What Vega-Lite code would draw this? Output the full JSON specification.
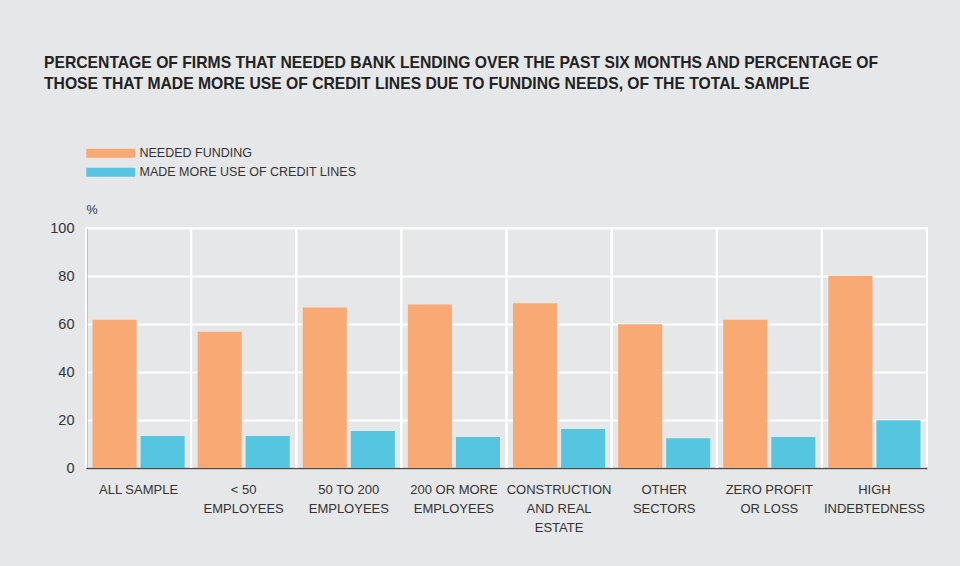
{
  "$schema": "https://vega.github.io/schema/vega-lite/v6.json",
  "autosize": {"type": "none"},
  "width": 841,
  "height": 240,
  "padding": {"left": 86, "top": 228, "right": 33, "bottom": 98},
  "background": "#e6e7e9",
  "title": {
    "text": ["PERCENTAGE OF FIRMS THAT NEEDED BANK LENDING OVER THE PAST SIX MONTHS AND PERCENTAGE OF", "THOSE THAT MADE MORE USE OF CREDIT LINES DUE TO FUNDING NEEDS, OF THE TOTAL SAMPLE"],
    "anchor": "start",
    "frame": "group",
    "dx": -42,
    "dy": -50,
    "font": "Liberation Sans",
    "fontSize": 15.7,
    "fontWeight": "bold",
    "color": "#222222",
    "lineHeight": 21
  },
  "data": {
    "values": [
      {"category": "ALL SAMPLE", "series": "NEEDED FUNDING", "value": 61.8},
      {"category": "ALL SAMPLE", "series": "MADE MORE USE OF CREDIT LINES", "value": 13.3},
      {"category": "< 50|EMPLOYEES", "series": "NEEDED FUNDING", "value": 56.8},
      {"category": "< 50|EMPLOYEES", "series": "MADE MORE USE OF CREDIT LINES", "value": 13.3},
      {"category": "50 TO 200|EMPLOYEES", "series": "NEEDED FUNDING", "value": 66.9},
      {"category": "50 TO 200|EMPLOYEES", "series": "MADE MORE USE OF CREDIT LINES", "value": 15.4},
      {"category": "200 OR MORE|EMPLOYEES", "series": "NEEDED FUNDING", "value": 68.1},
      {"category": "200 OR MORE|EMPLOYEES", "series": "MADE MORE USE OF CREDIT LINES", "value": 12.9},
      {"category": "CONSTRUCTION|AND REAL|ESTATE", "series": "NEEDED FUNDING", "value": 68.6},
      {"category": "CONSTRUCTION|AND REAL|ESTATE", "series": "MADE MORE USE OF CREDIT LINES", "value": 16.2},
      {"category": "OTHER|SECTORS", "series": "NEEDED FUNDING", "value": 59.9},
      {"category": "OTHER|SECTORS", "series": "MADE MORE USE OF CREDIT LINES", "value": 12.4},
      {"category": "ZERO PROFIT|OR LOSS", "series": "NEEDED FUNDING", "value": 61.8},
      {"category": "ZERO PROFIT|OR LOSS", "series": "MADE MORE USE OF CREDIT LINES", "value": 12.9},
      {"category": "HIGH|INDEBTEDNESS", "series": "NEEDED FUNDING", "value": 80.1},
      {"category": "HIGH|INDEBTEDNESS", "series": "MADE MORE USE OF CREDIT LINES", "value": 19.9}
    ]
  },
  "layer": [
    {
      "mark": {"type": "bar"},
      "encoding": {
        "x": {
          "field": "category",
          "type": "nominal",
          "sort": null,
          "scale": {"paddingInner": 0, "paddingOuter": 0},
          "axis": {
            "title": null,
            "bandPosition": 0.5,
            "labelAngle": 0,
            "labelExpr": "split(datum.label, '|')",
            "labelFont": "Liberation Sans",
            "labelFontSize": 13,
            "labelColor": "#333333",
            "labelLineHeight": 19,
            "labelBaseline": "top",
            "labelPadding": 15,
            "labelLimit": 200,
            "ticks": false,
            "domainColor": "#4a4a4a",
            "domainWidth": 1.5,
            "grid": false
          }
        },
        "xOffset": {
          "field": "series",
          "type": "nominal",
          "sort": ["NEEDED FUNDING", "MADE MORE USE OF CREDIT LINES"],
          "scale": {"paddingInner": 0.083, "paddingOuter": 0.135}
        },
        "y": {
          "field": "value",
          "type": "quantitative",
          "scale": {"domain": [0, 100], "nice": false},
          "axis": {
            "values": [0, 20, 40, 60, 80, 100],
            "title": "%",
            "titleAngle": 0,
            "titleAlign": "left",
            "titleBaseline": "bottom",
            "titleX": 0,
            "titleY": -12,
            "titleFont": "Liberation Sans",
            "titleFontSize": 12.5,
            "titleFontWeight": "normal",
            "titleColor": "#333333",
            "labelFont": "Liberation Sans",
            "labelFontSize": 14.5,
            "labelColor": "#333333",
            "labelPadding": 12,
            "ticks": false,
            "domainColor": "#4a4a4a",
            "domainWidth": 1.5,
            "grid": true,
            "gridColor": "white",
            "gridWidth": 2
          }
        },
        "color": {
          "field": "series",
          "type": "nominal",
          "scale": {
            "domain": ["NEEDED FUNDING", "MADE MORE USE OF CREDIT LINES"],
            "range": ["#f9aa74", "#56c6e0"]
          },
          "legend": {
            "title": null,
            "orient": "none",
            "legendX": -1,
            "legendY": -81,
            "symbolType": "M-1,-0.9H8.8V0.9H-1Z",
            "symbolSize": 100,
            "symbolStrokeWidth": 0,
            "symbolOpacity": 1,
            "labelFont": "Liberation Sans",
            "labelFontSize": 12.5,
            "labelColor": "#333333",
            "labelOffset": 42,
            "labelLimit": 400,
            "rowPadding": 6
          }
        }
      }
    },
    {
      "mark": {"type": "rule", "color": "white", "strokeWidth": 2},
      "encoding": {
        "x": {"field": "category", "type": "nominal", "sort": null, "bandPosition": 0}
      }
    }
  ],
  "config": {
    "view": {"stroke": "white", "strokeWidth": 2}
  }
}
